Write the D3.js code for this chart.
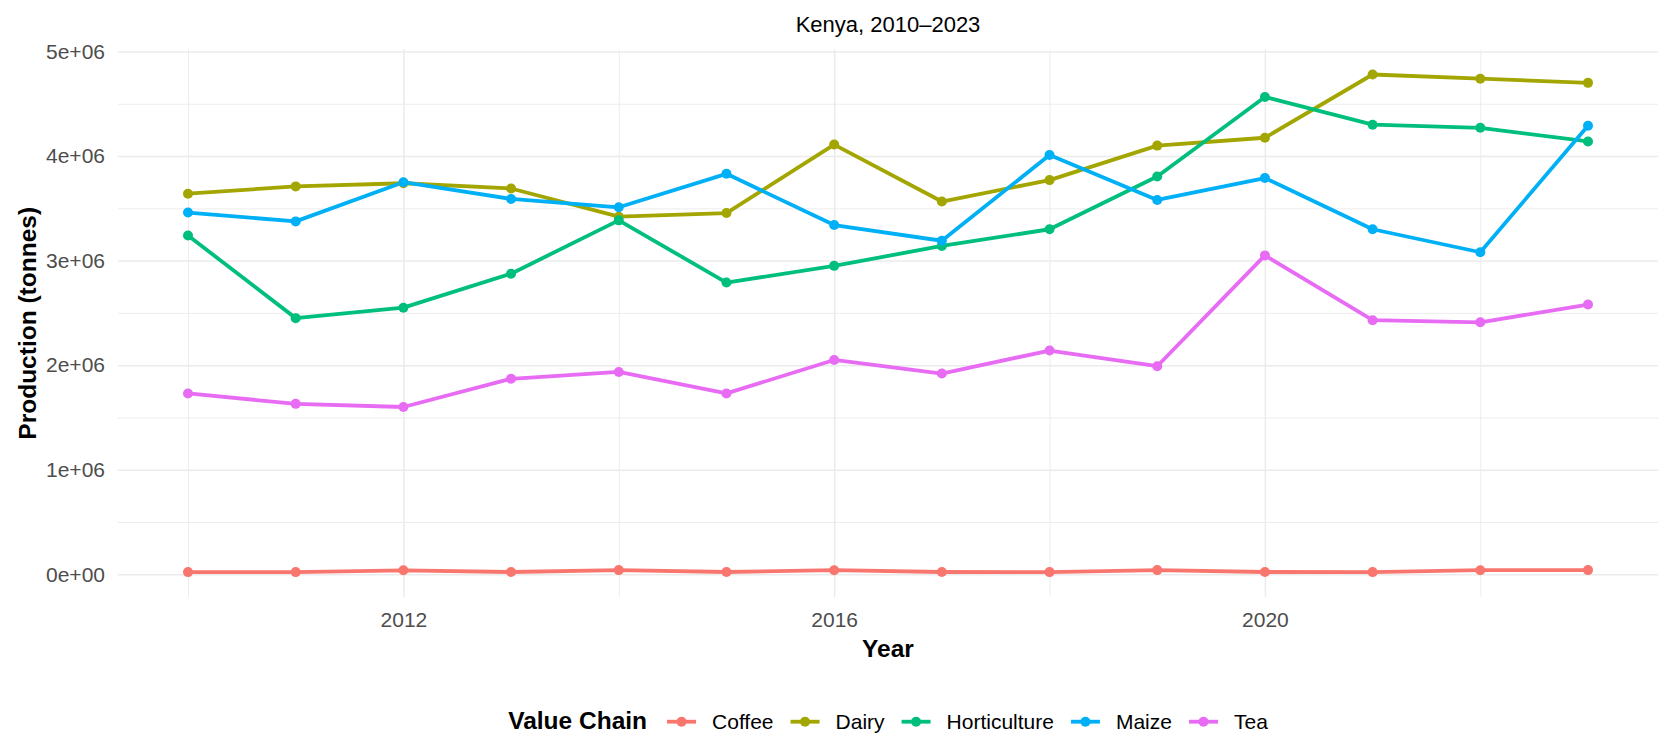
<!DOCTYPE html>
<html>
<head>
<meta charset="utf-8">
<script src="https://cdn.jsdelivr.net/npm/d3@7"></script>
<style>
  body { margin: 0; background: #fff; }
  text { font-family: "Liberation Sans", Arial, sans-serif; }
</style>
</head>
<body>
<div id="chart"></div>
<script>
//data (tonnes)
const years = [2010, 2011, 2012, 2013, 2014, 2015, 2016, 2017, 2018, 2019, 2020, 2021, 2022, 2023];
const valueChains = ["Coffee", "Dairy", "Horticulture", "Maize", "Tea"];
const coffee = [21000, 21000, 38000, 22000, 40000, 22000, 39000, 22000, 21000, 40000, 22000, 21000, 39000, 40000];
const dairy = [3640000, 3710000, 3740000, 3690000, 3420000, 3455000, 4110000, 3565000, 3770000, 4100000, 4175000, 4780000, 4740000, 4700000];
const horticulture = [3240000, 2450000, 2550000, 2875000, 3385000, 2790000, 2950000, 3140000, 3300000, 3805000, 4565000, 4300000, 4270000, 4140000];
const maize = [3460000, 3375000, 3750000, 3590000, 3510000, 3830000, 3340000, 3190000, 4010000, 3580000, 3790000, 3300000, 3080000, 4290000];
const tea = [1730000, 1630000, 1600000, 1870000, 1935000, 1730000, 2050000, 1920000, 2140000, 1990000, 3050000, 2430000, 2410000, 2580000];
const seriesValues = [coffee, dairy, horticulture, maize, tea];
const colors = ["#F8766D", "#A3A500", "#00BF7D", "#00B0F6", "#E76BF3"];
const yTicks = [0, 1e6, 2e6, 3e6, 4e6, 5e6];
const yMinorTicks = [0.5e6, 1.5e6, 2.5e6, 3.5e6, 4.5e6];
const xTicks = [2012, 2016, 2020];
const xMinorTicks = [2010, 2014, 2018, 2022];

//sizes
const width = 1665;
const height = 741;
const panelLeft = 118;
const panelRight = 1658;
const lineWidth = 3.8;
const radius = 5;

//R style scientific labels: 1e+06
const sci = (n) => {
  const parts = n.toExponential(0).split("e");
  const exp = parts[1];
  const sign = exp[0];
  const digits = exp.slice(1).padStart(2, "0");
  return parts[0] + "e" + sign + digits;
};

const svg = d3
  .select("#chart")
  .append("svg")
  .attr("width", width)
  .attr("height", height);

//x scale with ggplot's 5% expansion
const xPad = (d3.max(years) - d3.min(years)) * 0.05;
const x = d3
  .scaleLinear()
  .domain([d3.min(years) - xPad, d3.max(years) + xPad])
  .range([panelLeft, panelRight]);

//y scale, 0 and 5e+06 pinned to the reference gridlines
const y = d3.scaleLinear().domain([0, 5e6]).range([574.3, 51.5]);
const allValues = seriesValues.flat();
const yPad = (d3.max(allValues) - d3.min(allValues)) * 0.05;
const panelTop = y(d3.max(allValues) + yPad);
const panelBottom = y(d3.min(allValues) - yPad);
const panelW = panelRight - panelLeft;
const panelH = panelBottom - panelTop;

//gridlines through axes
const grid = (g, axis, w) => {
  g.call(axis);
  g.select(".domain").remove();
  g.selectAll("text").remove();
  g.selectAll("line").attr("stroke", "#EBEBEB").attr("stroke-width", w);
};
svg
  .append("g")
  .attr("transform", `translate(${panelLeft},0)`)
  .call(grid, d3.axisLeft(y).tickValues(yMinorTicks).tickSize(-panelW), 0.9);
svg
  .append("g")
  .attr("transform", `translate(0,${panelBottom})`)
  .call(grid, d3.axisBottom(x).tickValues(xMinorTicks).tickSize(-panelH), 0.9);
svg
  .append("g")
  .attr("transform", `translate(${panelLeft},0)`)
  .call(grid, d3.axisLeft(y).tickValues(yTicks).tickSize(-panelW), 1.5);
svg
  .append("g")
  .attr("transform", `translate(0,${panelBottom})`)
  .call(grid, d3.axisBottom(x).tickValues(xTicks).tickSize(-panelH), 1.5);

//tick labels
const yAxis = svg
  .append("g")
  .attr("transform", `translate(${panelLeft},0)`)
  .call(d3.axisLeft(y).tickValues(yTicks).tickSize(0).tickPadding(13).tickFormat(sci));
const xAxis = svg
  .append("g")
  .attr("transform", `translate(0,${panelBottom})`)
  .call(d3.axisBottom(x).tickValues(xTicks).tickSize(0).tickPadding(15).tickFormat(d3.format("d")));
[yAxis, xAxis].forEach((g) => {
  g.select(".domain").remove();
  g.selectAll("text")
    .attr("font-family", "Liberation Sans, Arial, sans-serif")
    .attr("font-size", 21)
    .attr("fill", "#4D4D4D");
});

//lines then points, like geom_line + geom_point
const line = d3
  .line()
  .x((d, i) => x(years[i]))
  .y((d) => y(d));
svg
  .append("g")
  .selectAll("path")
  .data(seriesValues)
  .enter()
  .append("path")
  .attr("d", line)
  .attr("fill", "none")
  .attr("stroke", (d, i) => colors[i])
  .attr("stroke-width", lineWidth)
  .attr("stroke-linejoin", "round");
seriesValues.forEach((values, s) => {
  svg
    .append("g")
    .selectAll("circle")
    .data(values)
    .enter()
    .append("circle")
    .attr("cx", (d, i) => x(years[i]))
    .attr("cy", (d) => y(d))
    .attr("r", radius)
    .attr("fill", colors[s]);
});

//titles
const centre = (panelLeft + panelRight) / 2;
svg
  .append("text")
  .attr("x", centre)
  .attr("y", 32)
  .attr("text-anchor", "middle")
  .attr("font-size", 22)
  .attr("fill", "#000")
  .text("Kenya, 2010–2023");
svg
  .append("text")
  .attr("x", centre)
  .attr("y", 657)
  .attr("text-anchor", "middle")
  .attr("font-size", 24.5)
  .attr("font-weight", "bold")
  .attr("fill", "#000")
  .text("Year");
svg
  .append("text")
  .attr("transform", `translate(35.5,${(panelTop + panelBottom) / 2}) rotate(-90)`)
  .attr("text-anchor", "middle")
  .attr("font-size", 24.5)
  .attr("font-weight", "bold")
  .attr("fill", "#000")
  .text("Production (tonnes)");

//legend at the bottom, centred on the panel
const legendY = 721.7;
const keyW = 29;
const legend = svg.append("g");
const legendTitle = legend
  .append("text")
  .attr("x", 0)
  .attr("y", legendY + 7.5)
  .attr("font-size", 24.5)
  .attr("font-weight", "bold")
  .attr("fill", "#000")
  .text("Value Chain");
let cursor = legendTitle.node().getComputedTextLength() + 20;
valueChains.forEach((name, i) => {
  legend
    .append("line")
    .attr("x1", cursor)
    .attr("x2", cursor + keyW)
    .attr("y1", legendY)
    .attr("y2", legendY)
    .attr("stroke", colors[i])
    .attr("stroke-width", lineWidth);
  legend
    .append("circle")
    .attr("cx", cursor + keyW / 2)
    .attr("cy", legendY)
    .attr("r", radius)
    .attr("fill", colors[i]);
  const label = legend
    .append("text")
    .attr("x", cursor + keyW + 16)
    .attr("y", legendY + 7.5)
    .attr("font-size", 21)
    .attr("fill", "#000")
    .text(name);
  cursor += keyW + 16 + label.node().getComputedTextLength() + 17;
});
const legendW = cursor - 17;
legend.attr("transform", `translate(${centre - legendW / 2},0)`);
</script>
</body>
</html>
